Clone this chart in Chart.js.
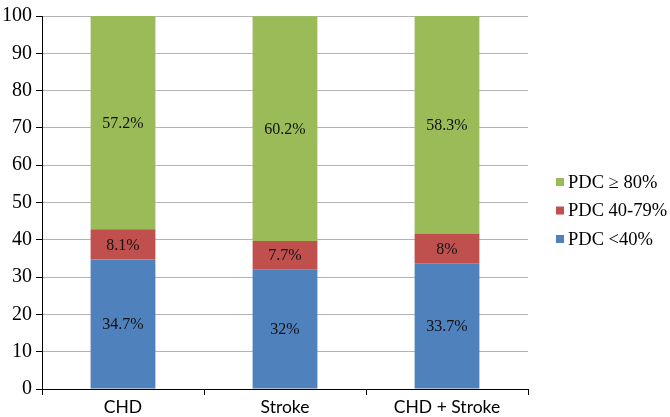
<!DOCTYPE html>
<html>
<head>
<meta charset="utf-8">
<script src="https://cdn.jsdelivr.net/npm/chart.js@4/dist/chart.umd.min.js"></script>
<style>
  html, body { margin: 0; padding: 0; background: #fff; }
  #wrap { width: 670px; height: 417px; position: relative; }
</style>
</head>
<body>
<div id="wrap"><canvas id="chart" width="670" height="417"></canvas></div>
<script>
// data
const categories = ["CHD", "Stroke", "CHD + Stroke"];
const seriesNames = ["PDC <40%", "PDC 40-79%", "PDC \u2265 80%"];
const below40 = [34.7, 32, 33.7];
const mid4079 = [8.1, 7.7, 8];
const above80 = [57.2, 60.2, 58.3];
const yTicks = [0, 10, 20, 30, 40, 50, 60, 70, 80, 90, 100];

const colors = ["#4f81bd", "#c0504d", "#9bbb59"];
const serif = "'Liberation Serif', 'Times New Roman', serif";

// percentage labels in the middle of each segment
const segmentLabels = {
    id: "segmentLabels",
    afterDatasetsDraw(chart) {
        const ctx = chart.ctx;
        ctx.save();
        ctx.font = "16px " + serif;
        ctx.fillStyle = "#111";
        ctx.textAlign = "center";
        ctx.textBaseline = "middle";
        chart.data.datasets.forEach((ds, i) => {
            chart.getDatasetMeta(i).data.forEach((bar, j) => {
                const y = (bar.y + bar.base) / 2;
                ctx.fillText(ds.data[j] + "%", bar.x, y + 1);
            });
        });
        ctx.restore();
    }
};

// legend on the right, top item is the last series
const sideLegend = {
    id: "sideLegend",
    afterDraw(chart) {
        const ctx = chart.ctx;
        const x = 556, top = 182, step = 28.5, box = 8;
        ctx.save();
        ctx.font = "18.5px " + serif;
        ctx.textBaseline = "middle";
        ctx.textAlign = "left";
        const list = chart.data.datasets.slice().reverse();
        list.forEach((ds, k) => {
            const y = top + k * step;
            ctx.fillStyle = ds.backgroundColor;
            ctx.fillRect(x, y - box / 2, box, box);
            ctx.fillStyle = "#000";
            ctx.fillText(ds.label, x + 12, y + 1);
        });
        ctx.restore();
    }
};

new Chart(document.getElementById("chart").getContext("2d"), {
    type: "bar",
    data: {
        labels: categories,
        datasets: [
            { label: seriesNames[0], data: below40, backgroundColor: colors[0] },
            { label: seriesNames[1], data: mid4079, backgroundColor: colors[1] },
            { label: seriesNames[2], data: above80, backgroundColor: colors[2] }
        ]
    },
    options: {
        responsive: false,
        animation: false,
        layout: { padding: { top: 10, right: 142, bottom: 0, left: 0 } },
        datasets: {
            bar: { categoryPercentage: 1, barPercentage: 0.4, borderWidth: 0 }
        },
        plugins: {
            legend: { display: false },
            tooltip: { enabled: false }
        },
        scales: {
            x: {
                stacked: true,
                grid: {
                    offset: true,
                    drawOnChartArea: false,
                    drawTicks: true,
                    tickLength: 6,
                    tickColor: "#000"
                },
                border: { color: "#000", width: 1 },
                ticks: {
                    color: "#000",
                    font: { family: "Lato, 'Open Sans', sans-serif", size: 17.5 },
                    padding: 2
                },
                afterFit(scale) { scale.height = 28; }
            },
            y: {
                stacked: true,
                min: 0,
                max: 100,
                afterBuildTicks(scale) {
                    scale.ticks = yTicks.map(v => ({ value: v }));
                },
                grid: {
                    color: "#b4b4b4",
                    lineWidth: 1,
                    drawTicks: true,
                    tickLength: 6,
                    tickColor: "#000"
                },
                border: { color: "#000", width: 1 },
                ticks: {
                    color: "#000",
                    font: { family: serif, size: 20 },
                    padding: 4
                },
                afterFit(scale) { scale.width = 42; }
            }
        }
    },
    plugins: [segmentLabels, sideLegend]
});
</script>
</body>
</html>
